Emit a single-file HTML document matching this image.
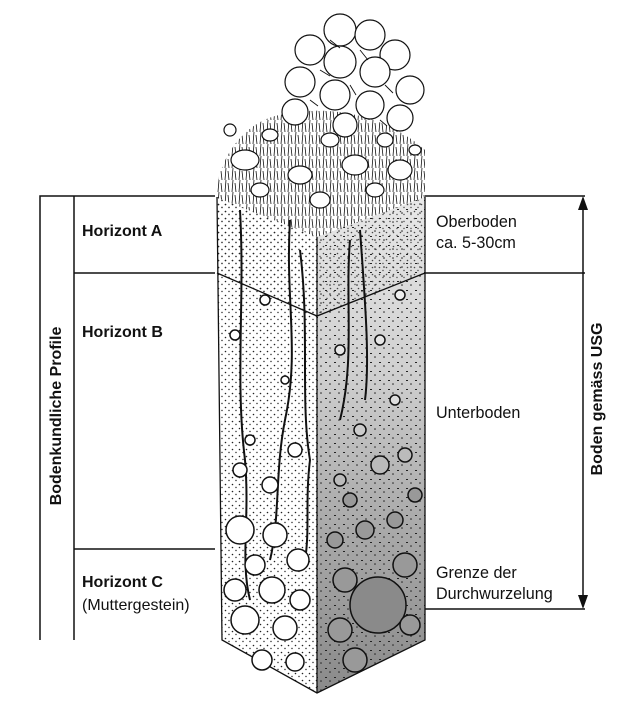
<!DOCTYPE html>
<html><head><meta charset="utf-8"><style>
html,body{margin:0;padding:0;background:#fff}
body{width:639px;height:703px;position:relative;overflow:hidden;font-family:"Liberation Sans",sans-serif;color:#111}
.t{position:absolute;font-size:16px;line-height:18px;white-space:nowrap;transform:translateY(-50%)}
.r{font-size:17px;transform:translateY(-50%) scaleX(0.95);transform-origin:left center}
.b{font-weight:bold}
</style></head><body>
<svg width="639" height="703" style="position:absolute;left:0;top:0">
<defs>
<pattern id="dots" width="7" height="7" patternUnits="userSpaceOnUse">
<circle cx="1.5" cy="1.5" r="0.8" fill="#222"/><circle cx="5" cy="4.5" r="0.7" fill="#222"/>
</pattern>
<pattern id="dots2" width="9" height="9" patternUnits="userSpaceOnUse">
<rect x="1" y="2" width="2" height="1" fill="#222"/><circle cx="6" cy="6" r="0.8" fill="#222"/>
</pattern>
<pattern id="grass" width="7" height="12" patternUnits="userSpaceOnUse">
<path d="M1 12 L2 0 M5 12 L4 3" stroke="#111" stroke-width="0.8"/>
</pattern>
<linearGradient id="rg" x1="0" y1="0" x2="0" y2="1">
<stop offset="0" stop-color="#e8e8e8"/><stop offset="0.35" stop-color="#d0d0d0"/><stop offset="0.6" stop-color="#b0b0b0"/><stop offset="1" stop-color="#8a8a8a"/>
</linearGradient>
</defs>
<g stroke="#111" stroke-width="1.5" fill="none">
<path d="M40 640 V196 H215"/>
<path d="M74 640 V196"/>
<path d="M74 273 H215"/>
<path d="M74 549 H215"/>
<path d="M425 196 H585"/>
<path d="M425 273 H585"/>
<path d="M425 609 H585"/>
<path d="M583 208 V598"/>
</g>
<path d="M583 196 L578 210 L588 210 Z" fill="#111"/>
<path d="M583 609 L578 595 L588 595 Z" fill="#111"/>
<path d="M217 197 L317 237 L317 693 L222 640 Z" fill="#fff"/>
<path d="M317 237 L425 197 L425 640 L317 693 Z" fill="url(#rg)"/>
<path d="M217 197 L317 237 L317 693 L222 640 Z" fill="url(#dots)"/>
<path d="M317 237 L425 197 L425 640 L317 693 Z" fill="url(#dots2)"/>
<path d="M217 197 L317 237 L317 316 L217 273 Z" fill="url(#dots)" opacity="0.8"/>
<path d="M317 237 L425 197 L425 273 L317 316 Z" fill="url(#dots)" opacity="0.8"/>
<g stroke="#111" stroke-width="1.3" fill="none">
<path d="M217 197 L222 640 L317 693 L425 640 L425 197"/>
<path d="M317 237 V693"/>
<path d="M217 273 L317 316 L425 273"/>
</g>
<g stroke="#111" stroke-width="2" fill="none">
<path d="M240 210 C245 300 235 380 245 460 C250 520 240 560 250 600"/>
<path d="M290 220 C285 300 300 350 285 420 C275 470 280 520 270 560"/>
<path d="M300 250 C310 330 300 400 310 460 C305 500 310 530 305 560"/>
<path d="M350 240 C345 300 355 360 340 420"/>
<path d="M360 230 C365 300 370 360 365 400"/>
</g>
<g stroke="#111" stroke-width="1.5" fill="#fff">
<circle cx="240" cy="530" r="14"/><circle cx="275" cy="535" r="12"/><circle cx="298" cy="560" r="11"/>
<circle cx="255" cy="565" r="10"/><circle cx="235" cy="590" r="11"/><circle cx="272" cy="590" r="13"/>
<circle cx="300" cy="600" r="10"/><circle cx="245" cy="620" r="14"/><circle cx="285" cy="628" r="12"/>
<circle cx="262" cy="660" r="10"/><circle cx="295" cy="662" r="9"/><circle cx="240" cy="470" r="7"/>
<circle cx="270" cy="485" r="8"/><circle cx="295" cy="450" r="7"/><circle cx="250" cy="440" r="5"/>
<circle cx="265" cy="300" r="5"/><circle cx="235" cy="335" r="5"/><circle cx="285" cy="380" r="4"/>
</g>
<g stroke="#111" stroke-width="1.5" fill="#999">
<circle cx="378" cy="605" r="28" fill="#8a8a8a"/><circle cx="345" cy="580" r="12"/><circle cx="405" cy="565" r="12"/>
<circle cx="340" cy="630" r="12"/><circle cx="355" cy="660" r="12"/><circle cx="410" cy="625" r="10"/>
<circle cx="335" cy="540" r="8"/><circle cx="365" cy="530" r="9"/><circle cx="395" cy="520" r="8"/>
<circle cx="415" cy="495" r="7"/><circle cx="350" cy="500" r="7"/><circle cx="380" cy="465" r="9" fill="#bbb"/>
<circle cx="340" cy="480" r="6" fill="#bbb"/><circle cx="405" cy="455" r="7" fill="#bbb"/>
<circle cx="360" cy="430" r="6" fill="#ccc"/><circle cx="395" cy="400" r="5" fill="#ddd"/>
<circle cx="380" cy="340" r="5" fill="#e5e5e5"/><circle cx="340" cy="350" r="5" fill="#e5e5e5"/><circle cx="400" cy="295" r="5" fill="#eee"/>
</g>
<path d="M215 197 C220 150 250 120 280 115 C320 105 380 110 425 150 L425 197 L317 237 Z" fill="url(#grass)"/>
<g stroke="#111" stroke-width="1.2" fill="#fff">
<ellipse cx="245" cy="160" rx="14" ry="10"/><ellipse cx="300" cy="175" rx="12" ry="9"/><ellipse cx="355" cy="165" rx="13" ry="10"/>
<ellipse cx="400" cy="170" rx="12" ry="10"/><ellipse cx="270" cy="135" rx="8" ry="6"/><ellipse cx="330" cy="140" rx="9" ry="7"/>
<ellipse cx="385" cy="140" rx="8" ry="7"/><ellipse cx="230" cy="130" rx="6" ry="6"/><ellipse cx="415" cy="150" rx="6" ry="5"/>
<ellipse cx="320" cy="200" rx="10" ry="8"/><ellipse cx="375" cy="190" rx="9" ry="7"/><ellipse cx="260" cy="190" rx="9" ry="7"/>
</g>
<g stroke="#111" stroke-width="1.2" fill="#fff">
<circle cx="340" cy="30" r="16"/><circle cx="370" cy="35" r="15"/><circle cx="310" cy="50" r="15"/>
<circle cx="395" cy="55" r="15"/><circle cx="340" cy="62" r="16"/><circle cx="375" cy="72" r="15"/>
<circle cx="300" cy="82" r="15"/><circle cx="410" cy="90" r="14"/><circle cx="335" cy="95" r="15"/>
<circle cx="370" cy="105" r="14"/><circle cx="295" cy="112" r="13"/><circle cx="400" cy="118" r="13"/>
<circle cx="345" cy="125" r="12"/>
</g>
<g stroke="#111" stroke-width="0.9">
<path d="M330 40 l10 8 M360 50 l8 10 M320 70 l10 6 M385 85 l8 8 M350 85 l6 10 M310 100 l8 6 M380 120 l7 6"/>
</g>
</svg>
<div class="t b" style="left:82px;top:232px">Horizont A</div>
<div class="t b" style="left:82px;top:333px">Horizont B</div>
<div class="t b" style="left:82px;top:583px">Horizont C</div>
<div class="t" style="left:82px;top:606px">(Muttergestein)</div>
<div class="t r" style="left:436px;top:222px">Oberboden</div>
<div class="t r" style="left:436px;top:243px">ca. 5-30cm</div>
<div class="t r" style="left:436px;top:413px">Unterboden</div>
<div class="t r" style="left:436px;top:573px">Grenze der</div>
<div class="t r" style="left:436px;top:594px">Durchwurzelung</div>
<div class="t b" style="left:57px;top:416px;transform:translate(-50%,-50%) rotate(-90deg)">Bodenkundliche Profile</div>
<div class="t b" style="left:598px;top:399px;transform:translate(-50%,-50%) rotate(-90deg)">Boden gemäss USG</div>
</body></html>
